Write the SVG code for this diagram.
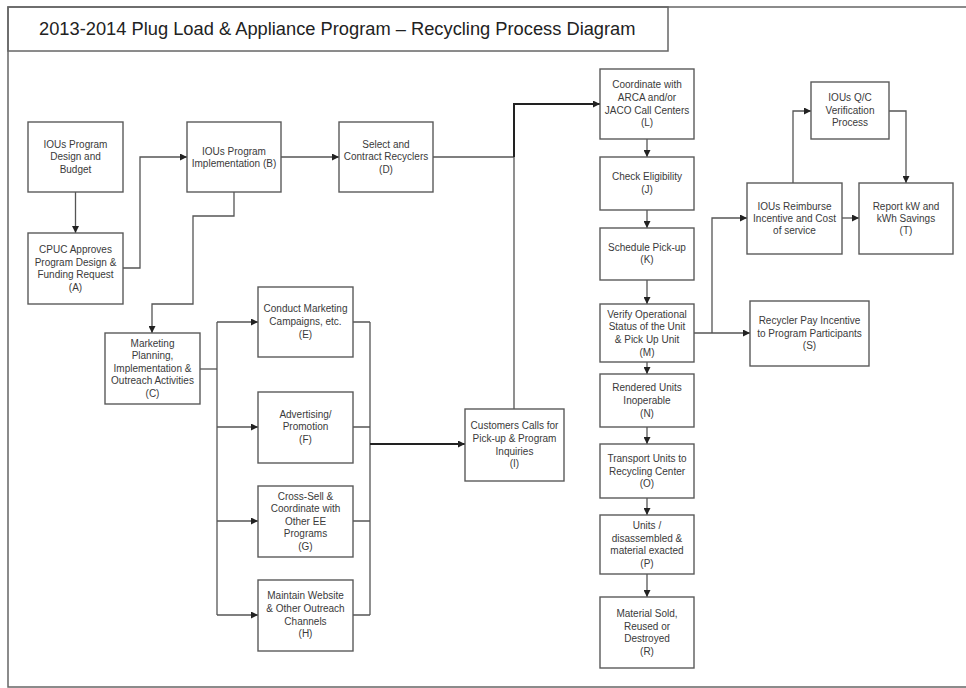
<svg xmlns="http://www.w3.org/2000/svg" width="966" height="688" viewBox="0 0 966 688">
<defs>
<style>
.box{fill:#fff;stroke:#5a5a5a;stroke-width:1.4}
.t{font-family:"Liberation Sans",Arial,sans-serif;font-size:10px;fill:#3a3a3a;text-anchor:middle}
.c{fill:none;stroke:#555;stroke-width:1.3}
.ck{fill:none;stroke:#222;stroke-width:2}
.frame{fill:none;stroke:#666;stroke-width:1.5}
</style>
<marker id="ah" viewBox="0 0 10 10" refX="10" refY="5" markerWidth="7" markerHeight="7" markerUnits="userSpaceOnUse" orient="auto">
<path d="M0,0 L10,5 L0,10 z" fill="#222"/>
</marker>
</defs>
<rect width="966" height="688" fill="#fff"/>
<g id="frame">
<path class="frame" d="M966,7 H8 V687 H966"/>
<rect class="frame" x="8" y="7" width="660" height="44"/>
<text x="39" y="35" font-family="Liberation Sans,Arial,sans-serif" font-size="18.3" fill="#222">2013-2014 Plug Load &amp; Appliance Program – Recycling Process Diagram</text>
</g>
<g id="connectors">
<path class="c" d="M75.5,192 V233" marker-end="url(#ah)"/>
<path class="c" d="M123,268 H140 V157 H187" marker-end="url(#ah)"/>
<path class="c" d="M281,157 H339" marker-end="url(#ah)"/>
<path class="c" d="M234,192 V216 H193 V304 H152 V333" marker-end="url(#ah)"/>
<path class="c" d="M200,369 H217"/>
<path class="c" d="M217,322 V615"/>
<path class="c" d="M217,322 H258" marker-end="url(#ah)"/>
<path class="c" d="M217,427 H258" marker-end="url(#ah)"/>
<path class="c" d="M217,521 H258" marker-end="url(#ah)"/>
<path class="c" d="M217,615 H258" marker-end="url(#ah)"/>
<path class="c" d="M353,322 H370 M353,427 H370 M353,521 H370 M353,615 H370 M370,322 V615"/>
<path class="ck" d="M370,444 H465" marker-end="url(#ah)"/>
<path class="c" d="M433,157 H514 M514,409 V157"/>
<path class="ck" d="M514,157 V104 H600" marker-end="url(#ah)"/>
<path class="c" d="M647,139 V157" marker-end="url(#ah)"/>
<path class="c" d="M647,210 V228" marker-end="url(#ah)"/>
<path class="c" d="M647,280 V304" marker-end="url(#ah)"/>
<path class="c" d="M647,362 V374" marker-end="url(#ah)"/>
<path class="c" d="M647,427 V444" marker-end="url(#ah)"/>
<path class="c" d="M647,498 V515" marker-end="url(#ah)"/>
<path class="c" d="M647,574 V597" marker-end="url(#ah)"/>
<path class="c" d="M694,333 H750" marker-end="url(#ah)"/>
<path class="c" d="M712,333 V218 H747" marker-end="url(#ah)"/>
<path class="c" d="M793,183 V111 H811" marker-end="url(#ah)"/>
<path class="c" d="M889,111 H906 V183" marker-end="url(#ah)"/>
<path class="c" d="M842,218 H859" marker-end="url(#ah)"/>
</g>
<g id="budget"><rect class="box" x="28" y="122" width="95" height="70"/>
<text class="t"><tspan x="75.5" y="147.5">IOUs Program</tspan><tspan x="75.5" y="160">Design and</tspan><tspan x="75.5" y="172.5">Budget</tspan></text></g>
<g id="A"><rect class="box" x="28" y="233" width="95" height="71"/>
<text class="t"><tspan x="75.5" y="253">CPUC Approves</tspan><tspan x="75.5" y="266">Program Design &amp;</tspan><tspan x="75.5" y="278">Funding Request</tspan><tspan x="75.5" y="291">(A)</tspan></text></g>
<g id="B"><rect class="box" x="187" y="122" width="94" height="70"/>
<text class="t"><tspan x="234" y="154.5">IOUs Program</tspan><tspan x="234" y="167">Implementation (B)</tspan></text></g>
<g id="D"><rect class="box" x="339" y="122" width="94" height="70"/>
<text class="t"><tspan x="386" y="147.5">Select and</tspan><tspan x="386" y="160">Contract Recyclers</tspan><tspan x="386" y="172.5">(D)</tspan></text></g>
<g id="C"><rect class="box" x="105" y="333" width="95" height="71"/>
<text class="t"><tspan x="152.5" y="346.5">Marketing</tspan><tspan x="152.5" y="359">Planning,</tspan><tspan x="152.5" y="371.5">Implementation &amp;</tspan><tspan x="152.5" y="384">Outreach Activities</tspan><tspan x="152.5" y="396.5">(C)</tspan></text></g>
<g id="E"><rect class="box" x="258" y="287" width="95" height="70"/>
<text class="t"><tspan x="305.5" y="311.5">Conduct Marketing</tspan><tspan x="305.5" y="324.5">Campaigns, etc.</tspan><tspan x="305.5" y="337.5">(E)</tspan></text></g>
<g id="F"><rect class="box" x="258" y="392" width="95" height="71"/>
<text class="t"><tspan x="305.5" y="417.5">Advertising/</tspan><tspan x="305.5" y="430">Promotion</tspan><tspan x="305.5" y="443">(F)</tspan></text></g>
<g id="G"><rect class="box" x="258" y="486" width="95" height="71"/>
<text class="t"><tspan x="305.5" y="499.5">Cross-Sell &amp;</tspan><tspan x="305.5" y="512">Coordinate with</tspan><tspan x="305.5" y="524.5">Other EE</tspan><tspan x="305.5" y="537">Programs</tspan><tspan x="305.5" y="549.5">(G)</tspan></text></g>
<g id="H"><rect class="box" x="258" y="580" width="95" height="71"/>
<text class="t"><tspan x="305.5" y="599">Maintain Website</tspan><tspan x="305.5" y="612">&amp; Other Outreach</tspan><tspan x="305.5" y="624.5">Channels</tspan><tspan x="305.5" y="637">(H)</tspan></text></g>
<g id="I"><rect class="box" x="465" y="409" width="99" height="72"/>
<text class="t"><tspan x="514.5" y="429">Customers Calls for</tspan><tspan x="514.5" y="441.5">Pick-up &amp; Program</tspan><tspan x="514.5" y="454.5">Inquiries</tspan><tspan x="514.5" y="467">(I)</tspan></text></g>
<g id="L"><rect class="box" x="600" y="69" width="94" height="70"/>
<text class="t"><tspan x="647" y="88">Coordinate with</tspan><tspan x="647" y="101">ARCA and/or</tspan><tspan x="647" y="113.5">JACO Call Centers</tspan><tspan x="647" y="126">(L)</tspan></text></g>
<g id="J"><rect class="box" x="600" y="157" width="94" height="53"/>
<text class="t"><tspan x="647" y="180">Check Eligibility</tspan><tspan x="647" y="193">(J)</tspan></text></g>
<g id="K"><rect class="box" x="600" y="228" width="94" height="52"/>
<text class="t"><tspan x="647" y="250.5">Schedule Pick-up</tspan><tspan x="647" y="263">(K)</tspan></text></g>
<g id="M"><rect class="box" x="600" y="304" width="94" height="58"/>
<text class="t"><tspan x="647" y="317.5">Verify Operational</tspan><tspan x="647" y="330">Status of the Unit</tspan><tspan x="647" y="343">&amp; Pick Up Unit</tspan><tspan x="647" y="355.5">(M)</tspan></text></g>
<g id="N"><rect class="box" x="600" y="374" width="94" height="53"/>
<text class="t"><tspan x="647" y="391">Rendered Units</tspan><tspan x="647" y="404">Inoperable</tspan><tspan x="647" y="416.5">(N)</tspan></text></g>
<g id="O"><rect class="box" x="600" y="444" width="94" height="54"/>
<text class="t"><tspan x="647" y="462">Transport Units to</tspan><tspan x="647" y="474.5">Recycling Center</tspan><tspan x="647" y="487">(O)</tspan></text></g>
<g id="P"><rect class="box" x="600" y="515" width="94" height="59"/>
<text class="t"><tspan x="647" y="529">Units /</tspan><tspan x="647" y="541.5">disassembled &amp;</tspan><tspan x="647" y="554">material exacted</tspan><tspan x="647" y="566.5">(P)</tspan></text></g>
<g id="R"><rect class="box" x="600" y="597" width="94" height="71"/>
<text class="t"><tspan x="647" y="617">Material Sold,</tspan><tspan x="647" y="630">Reused or</tspan><tspan x="647" y="642">Destroyed</tspan><tspan x="647" y="655">(R)</tspan></text></g>
<g id="QC"><rect class="box" x="811" y="82" width="78" height="57"/>
<text class="t"><tspan x="850" y="101">IOUs Q/C</tspan><tspan x="850" y="113.5">Verification</tspan><tspan x="850" y="126">Process</tspan></text></g>
<g id="reimburse"><rect class="box" x="747" y="183" width="95" height="71"/>
<text class="t"><tspan x="794.5" y="209.5">IOUs Reimburse</tspan><tspan x="794.5" y="222">Incentive and Cost</tspan><tspan x="794.5" y="234">of service</tspan></text></g>
<g id="T"><rect class="box" x="859" y="183" width="94" height="71"/>
<text class="t"><tspan x="906" y="209.5">Report kW and</tspan><tspan x="906" y="222">kWh Savings</tspan><tspan x="906" y="234">(T)</tspan></text></g>
<g id="S"><rect class="box" x="750" y="301" width="119" height="65"/>
<text class="t"><tspan x="809.5" y="324">Recycler Pay Incentive</tspan><tspan x="809.5" y="336.5">to Program Participants</tspan><tspan x="809.5" y="349">(S)</tspan></text></g>
</svg>
